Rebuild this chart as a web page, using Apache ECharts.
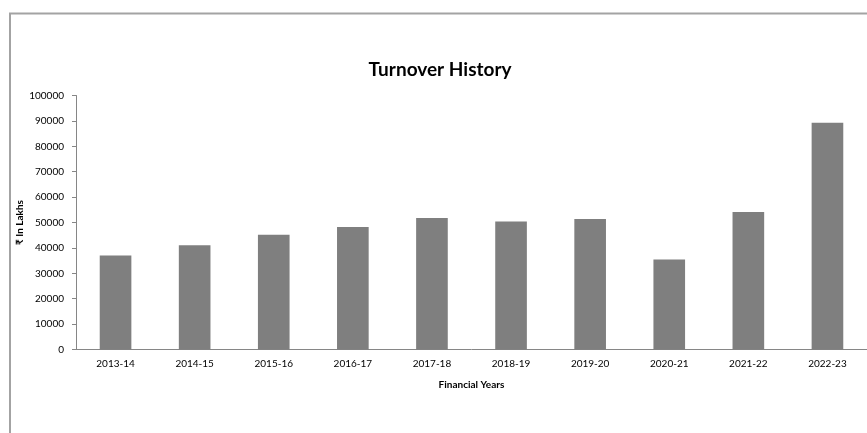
<!DOCTYPE html>
<html>
<head>
<meta charset="utf-8">
<script src="https://cdn.jsdelivr.net/npm/echarts@6/dist/echarts.min.js"></script>
<style>
html,body{margin:0;padding:0;background:#fff;}
#c{width:867px;height:433px;}
</style>
</head>
<body>
<div id="c"></div>
<script>
var categories = ['2013-14','2014-15','2015-16','2016-17','2017-18','2018-19','2019-20','2020-21','2021-22','2022-23'];
var turnover = [37000, 41000, 45200, 48200, 51800, 50400, 51400, 35400, 54100, 89300];
var yTicks = {min: 0, max: 100000, interval: 10000};

var chart = echarts.init(document.getElementById('c'));
chart.setOption({
  backgroundColor: '#ffffff',
  animation: false,
  textStyle: {fontFamily: 'Lato'},
  graphic: [{
    type: 'rect',
    shape: {x: 10, y: 13.5, width: 900, height: 500},
    style: {fill: 'none', stroke: '#a3a3a3', lineWidth: 2},
    silent: true
  }],
  title: {
    text: 'Turnover History',
    left: 440,
    top: 60,
    padding: 0,
    textAlign: 'center',
    textStyle: {fontFamily: 'Lato', fontWeight: 'bold', fontSize: 19, color: '#000'}
  },
  grid: {left: 76, top: 95.5, width: 793, height: 254, containLabel: false},
  xAxis: {
    type: 'category',
    data: categories,
    name: 'Financial Years',
    nameLocation: 'middle',
    nameGap: 30,
    nameMoveOverlap: false,
    nameTextStyle: {fontFamily: 'Lato', fontWeight: 'bold', fontSize: 10, color: '#000'},
    axisLine: {lineStyle: {color: '#868686', width: 1}},
    axisTick: {show: false},
    axisLabel: {fontFamily: 'Lato', fontSize: 10, color: '#000', margin: 9, interval: 0}
  },
  yAxis: {
    type: 'value',
    min: yTicks.min,
    max: yTicks.max,
    interval: yTicks.interval,
    name: '₹ In Lakhs',
    nameLocation: 'middle',
    nameGap: 51,
    nameMoveOverlap: false,
    nameTextStyle: {fontFamily: 'Lato', fontWeight: 'bold', fontSize: 10, color: '#000'},
    axisLine: {show: true, lineStyle: {color: '#868686', width: 1}},
    axisTick: {show: true, length: 4, lineStyle: {color: '#868686'}},
    splitLine: {show: false},
    axisLabel: {fontFamily: 'Lato', fontSize: 10, color: '#000', margin: 12,
      formatter: function (v) { return String(v); }}
  },
  series: [{
    type: 'bar',
    data: turnover,
    barWidth: '40%',
    itemStyle: {color: '#7f7f7f'}
  }]
});
</script>
</body>
</html>
